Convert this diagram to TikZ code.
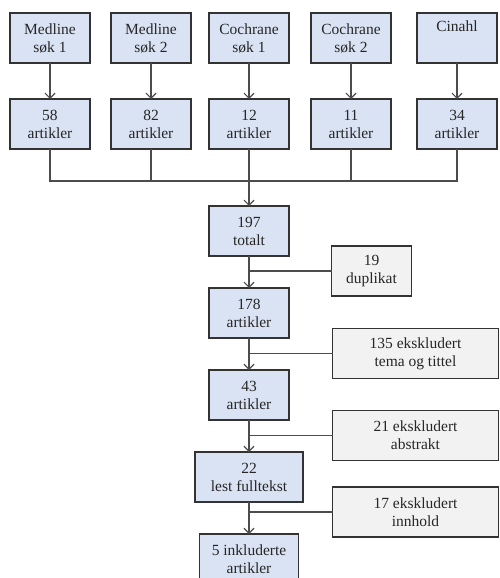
\documentclass[tikz,border=0pt]{standalone}
\usepackage{fontspec}
\setmainfont{Liberation Serif}
\usetikzlibrary{arrows.meta,positioning}
\definecolor{blockblue}{RGB}{218,227,243}
\definecolor{exclgrey}{RGB}{242,242,242}

\begin{document}
\begin{tikzpicture}[
    x=1pt, y=1pt,
    node distance=32pt and 21pt,
    every node/.style={font=\fontsize{15.5}{18}\selectfont, text=black!85},
    block/.style={rectangle, draw=black!80, line width=1.1pt, fill=blockblue,
                  minimum width=80pt, minimum height=50pt, align=center,
                  inner sep=2pt, outer sep=0pt},
    excl/.style={block, fill=exclgrey},
    line/.style={draw=black!70, line width=1.2pt},
    arrow/.style={line, -{Straight Barb[length=5pt, width=10pt]}}
]
  \useasboundingbox (0,0) rectangle (499,-578);

  % databases
  \node[block] (med1) at (50,-38) {Medline\\søk 1};
  \node[block, right=21pt of med1] (med2) {Medline\\søk 2};
  \node[block, right=18pt of med2] (coch1) {Cochrane\\søk 1};
  \node[block, right=22pt of coch1] (coch2) {Cochrane\\søk 2};
  \node[block, right=26pt of coch2] (cin) {Cinahl\\\strut};

  % hits per search
  \node[block, below=36pt of med1] (n58) {58\\artikler};
  \node[block, below=36pt of med2] (n82) {82\\artikler};
  \node[block, below=36pt of coch1] (n12) {12\\artikler};
  \node[block, below=36pt of coch2] (n11) {11\\artikler};
  \node[block, below=36pt of cin] (n34) {34\\artikler};
  \coordinate[below=32pt of n12] (merge);

  % screening
  \node[block, below=25pt of merge] (tot) {197\\totalt};
  \node[block, below=of tot] (n178) {178\\artikler};
  \node[block, below=of n178] (n43) {43\\artikler};
  \node[block, below=of n43, minimum width=108pt] (n22) {22\\lest fulltekst};
  \node[block, below=of n22, minimum width=99pt] (n5) {5 inkluderte\\artikler};

  % exclusions
  \node[excl] (dup) at (371.5,-271) {19\\duplikat};
  \node[excl, minimum width=166pt] (ex135) at (415.5,-353.5) {135 ekskludert\\tema og tittel};
  \node[excl, minimum width=166pt] (ex21) at (415.5,-435.5) {21 ekskludert\\abstrakt};
  \node[excl, minimum width=166pt] (ex17) at (415.5,-512) {17 ekskludert\\innhold};

  \draw[arrow] (med1) -- (n58);
  \draw[arrow] (med2) -- (n82);
  \draw[arrow] (coch1) -- (n12);
  \draw[arrow] (coch2) -- (n11);
  \draw[arrow] (cin) -- (n34);

  \draw[line] (n58.south) |- (merge) -| (n34.south);
  \draw[line] (n82.south) -- (n82.south |- merge);
  \draw[line] (n11.south) -- (n11.south |- merge);
  \draw[arrow] (n12.south) -- (tot.north);

  \draw[arrow] (tot) -- (n178);
  \draw[arrow] (n178) -- (n43);
  \draw[arrow] (n43) -- (n22);
  \draw[arrow] (n22) -- (n5);

  \draw[line] (dup.west) -- (dup.west -| tot.south);
  \draw[line] (ex135.west) -- (ex135.west -| n178.south);
  \draw[line] (ex21.west) -- (ex21.west -| n43.south);
  \draw[line] (ex17.west) -- (ex17.west -| n22.south);
\end{tikzpicture}
\end{document}
